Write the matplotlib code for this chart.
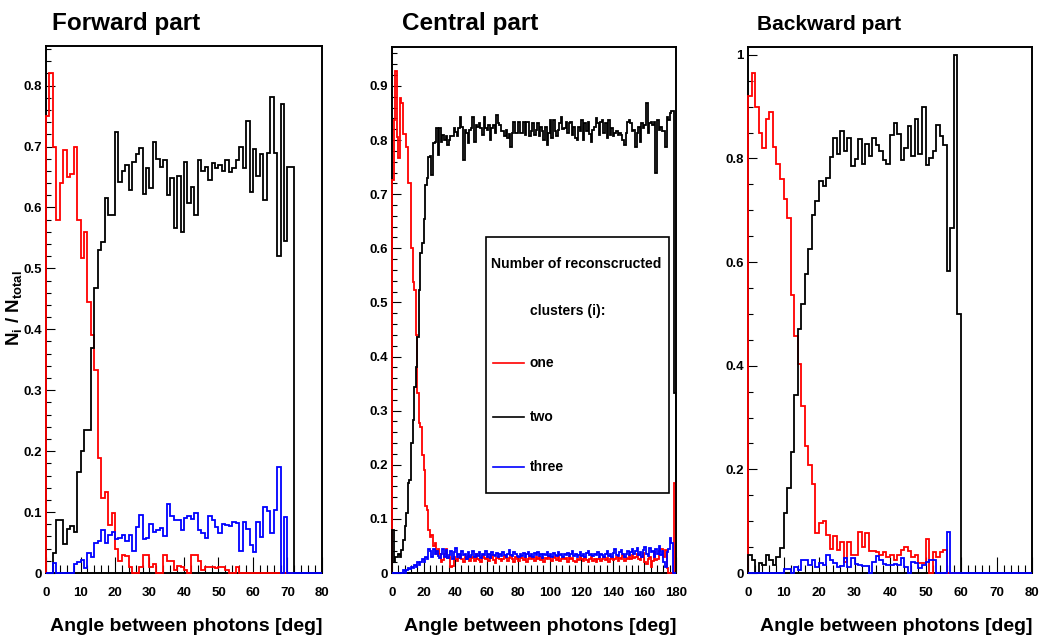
import numpy as np
import matplotlib
matplotlib.use('Agg')
import matplotlib.pyplot as plt
from matplotlib.ticker import MultipleLocator, FuncFormatter
from matplotlib.patches import Rectangle
from matplotlib.lines import Line2D

plt.rcParams['font.family'] = ['Liberation Sans', 'DejaVu Sans']
plt.rcParams['font.weight'] = 'bold'
plt.rcParams['mathtext.fontset'] = 'custom'
plt.rcParams['mathtext.rm'] = 'Liberation Sans:bold'
plt.rcParams['mathtext.it'] = 'Liberation Sans:bold'
plt.rcParams['mathtext.bf'] = 'Liberation Sans:bold'

# ---- Forward part (1 deg bins, 0..80) ----
fwd_one = [0.75, 0.82, 0.70, 0.58, 0.64, 0.695, 0.65, 0.655, 0.70, 0.58,
           0.517, 0.56, 0.445, 0.39, 0.334, 0.189, 0.123, 0.133, 0.079, 0.098,
           0.04, 0.02, 0.03, 0.028, 0.01, 0.0, 0.0, 0.01, 0.03, 0.03,
           0.01, 0.015, 0.0, 0.0, 0.03, 0.02, 0.02, 0.005, 0.012, 0.01,
           0.005, 0.0, 0.03, 0.03, 0.02, 0.005, 0.01, 0.01, 0.01, 0.008,
           0.01, 0.01, 0.005, 0.0, 0.0, 0.01]
fwd_two = [0.0, 0.0, 0.033, 0.087, 0.087, 0.048, 0.072, 0.077, 0.067, 0.165,
           0.2, 0.235, 0.235, 0.37, 0.468, 0.53, 0.543, 0.616, 0.587, 0.587,
           0.724, 0.641, 0.66, 0.67, 0.628, 0.675, 0.688, 0.697, 0.622, 0.665,
           0.632, 0.708, 0.68, 0.667, 0.678, 0.621, 0.648, 0.567, 0.652, 0.56,
           0.674, 0.607, 0.634, 0.587, 0.678, 0.66, 0.667, 0.645, 0.673, 0.665,
           0.67, 0.66, 0.678, 0.658, 0.665, 0.678, 0.70, 0.665, 0.742, 0.625,
           0.696, 0.652, 0.687, 0.613, 0.69, 0.782, 0.69, 0.52, 0.77, 0.545,
           0.667, 0.667]
fwd_three = [0.0, 0.0, 0.016, 0.0, 0.0, 0.0, 0.0, 0.0, 0.015, 0.018,
             0.022, 0.008, 0.033, 0.027, 0.05, 0.052, 0.07, 0.05, 0.062, 0.068,
             0.055, 0.057, 0.063, 0.052, 0.063, 0.036, 0.075, 0.096, 0.055, 0.057,
             0.08, 0.067, 0.07, 0.074, 0.06, 0.114, 0.093, 0.087, 0.087, 0.07,
             0.09, 0.094, 0.088, 0.098, 0.07, 0.066, 0.058, 0.093, 0.087, 0.075,
             0.066, 0.08, 0.078, 0.077, 0.084, 0.082, 0.036, 0.083, 0.072, 0.046,
             0.035, 0.084, 0.059, 0.109, 0.101, 0.065, 0.104, 0.174, 0.0, 0.092]

# ---- Central part (1 deg bins, 0..180) ----
cen_one = [0.726, 0.837, 0.927, 0.806, 0.767, 0.877, 0.868, 0.811, 0.811, 0.788,
           0.72, 0.72, 0.60, 0.537, 0.523, 0.44, 0.333, 0.277, 0.27, 0.218,
           0.19, 0.123, 0.116, 0.08, 0.067, 0.07, 0.05, 0.055, 0.035, 0.045,
           0.036, 0.021, 0.024, 0.036, 0.045, 0.027, 0.03, 0.012, 0.013, 0.03,
           0.025, 0.022, 0.028, 0.034, 0.026, 0.02, 0.03, 0.025, 0.032, 0.022,
           0.027, 0.03, 0.022, 0.035, 0.026, 0.024, 0.02, 0.031, 0.028, 0.025,
           0.03, 0.022, 0.027, 0.033, 0.024, 0.019, 0.028, 0.03, 0.026, 0.022,
           0.025, 0.031, 0.028, 0.023, 0.027, 0.034, 0.025, 0.021, 0.029, 0.026,
           0.023, 0.03, 0.027, 0.024, 0.028, 0.02, 0.026, 0.031, 0.025, 0.027,
           0.022, 0.029, 0.026, 0.03, 0.024, 0.027, 0.021, 0.028, 0.025, 0.03,
           0.026, 0.023, 0.029, 0.027, 0.024, 0.031, 0.022, 0.026, 0.028, 0.025,
           0.027, 0.021, 0.03, 0.025, 0.028, 0.023, 0.02, 0.026, 0.024, 0.029,
           0.025, 0.022, 0.027, 0.024, 0.02, 0.026, 0.029, 0.023, 0.025, 0.021,
           0.026, 0.028, 0.022, 0.025, 0.03, 0.024, 0.027, 0.021, 0.025, 0.028,
           0.024, 0.026, 0.03, 0.023, 0.027, 0.025, 0.034, 0.022, 0.028, 0.026,
           0.031, 0.025, 0.033, 0.027, 0.029, 0.035, 0.026, 0.024, 0.03, 0.037,
           0.02, 0.016, 0.025, 0.03, 0.012, 0.022, 0.038, 0.024, 0.026, 0.04,
           0.044, 0.045, 0.03, 0.042, 0.01, 0.0, 0.0, 0.0, 0.0, 0.167]
cen_two = [0.08, 0.02, 0.03, 0.03, 0.035, 0.03, 0.043, 0.061, 0.086, 0.11,
           0.166, 0.172, 0.24, 0.283, 0.344, 0.381, 0.437, 0.523, 0.591, 0.61,
           0.655, 0.717, 0.73, 0.769,
           0.77, 0.736, 0.794, 0.797, 0.822, 0.773, 0.822, 0.797, 0.81, 0.80,
           0.807, 0.791, 0.80, 0.807, 0.807, 0.822, 0.815,
           0.807, 0.822, 0.843, 0.825, 0.764, 0.819, 0.813, 0.794, 0.819, 0.822,
           0.843, 0.797, 0.828, 0.825, 0.831, 0.822, 0.81,
           0.843, 0.822, 0.819, 0.828, 0.80, 0.822, 0.828, 0.813, 0.847, 0.831,
           0.828, 0.816, 0.816, 0.807, 0.819, 0.803, 0.812,
           0.788, 0.813, 0.834, 0.813, 0.813, 0.834, 0.813, 0.813, 0.834, 0.81,
           0.834, 0.834, 0.807, 0.816, 0.831, 0.81, 0.818,
           0.831, 0.807, 0.825, 0.816, 0.80, 0.825, 0.791, 0.813, 0.837, 0.803,
           0.837, 0.816, 0.807, 0.819, 0.831, 0.843, 0.82,
           0.822, 0.834, 0.813, 0.831, 0.834, 0.81, 0.825, 0.803, 0.80, 0.825,
           0.816, 0.837, 0.80, 0.831, 0.816, 0.834, 0.812,
           0.797, 0.819, 0.825, 0.84, 0.831, 0.81, 0.834, 0.837, 0.813, 0.831,
           0.803, 0.837, 0.81, 0.822, 0.807, 0.813, 0.816,
           0.81, 0.813, 0.81, 0.80, 0.791, 0.813, 0.834, 0.837, 0.831, 0.816,
           0.819, 0.788, 0.813, 0.825, 0.797, 0.831, 0.822,
           0.828, 0.868, 0.813, 0.831, 0.834, 0.828, 0.834, 0.74, 0.837, 0.819,
           0.825, 0.816, 0.816, 0.788, 0.843, 0.837, 0.85, 0.853, 0.853, 0.333]
cen_three = [0.0, 0.0, 0.0, 0.0, 0.0, 0.0, 0.0, 0.005, 0.0, 0.005,
             0.01, 0.008, 0.012, 0.01, 0.015, 0.012, 0.02, 0.015, 0.02, 0.025,
             0.02, 0.03, 0.025, 0.045, 0.04, 0.03, 0.045, 0.035,
             0.04, 0.032, 0.028, 0.035, 0.045, 0.03, 0.042, 0.028, 0.034, 0.04, 0.025, 0.038,
             0.047, 0.03, 0.035, 0.028, 0.04, 0.033, 0.036, 0.025, 0.038, 0.03,
             0.034, 0.04, 0.029, 0.036, 0.031, 0.038, 0.027, 0.035, 0.033, 0.04,
             0.03, 0.036, 0.028, 0.039, 0.034, 0.031, 0.037, 0.029, 0.035, 0.032,
             0.038, 0.033, 0.03, 0.036, 0.042, 0.034, 0.031, 0.039, 0.035, 0.032,
             0.029, 0.036, 0.031, 0.037, 0.03, 0.035, 0.039, 0.032, 0.036, 0.03,
             0.037, 0.033, 0.038, 0.031, 0.035, 0.028, 0.036, 0.034, 0.039, 0.032,
             0.036, 0.03, 0.037, 0.034, 0.032, 0.038, 0.033, 0.036, 0.029, 0.035,
             0.033, 0.037, 0.031, 0.035, 0.04, 0.032, 0.036, 0.03, 0.034, 0.038,
             0.032, 0.035, 0.03, 0.037, 0.041, 0.033, 0.036, 0.031, 0.035, 0.034,
             0.038, 0.03, 0.036, 0.033, 0.029, 0.035, 0.04, 0.032, 0.036, 0.03,
             0.037, 0.045, 0.034, 0.031, 0.038, 0.043, 0.035, 0.03, 0.036, 0.041,
             0.033, 0.039, 0.045, 0.036, 0.04, 0.047, 0.034, 0.038, 0.029, 0.042,
             0.048, 0.035, 0.032, 0.046, 0.038, 0.041, 0.03, 0.044, 0.036, 0.049,
             0.033, 0.04, 0.02, 0.012, 0.038, 0.045, 0.065, 0.055, 0.0, 0.0]

# ---- Backward part (1 deg bins, 0..80) ----
bwd_one = [0.92, 0.965, 0.90, 0.85, 0.82, 0.877, 0.89, 0.822, 0.79, 0.761,
           0.722, 0.685, 0.536, 0.458, 0.404, 0.322, 0.245, 0.208, 0.172, 0.077,
           0.096, 0.1, 0.074, 0.047, 0.072, 0.045, 0.06, 0.022, 0.06, 0.035,
           0.035, 0.08, 0.05, 0.078, 0.043, 0.042, 0.04, 0.035, 0.04, 0.03,
           0.035, 0.025, 0.035, 0.045, 0.05, 0.043, 0.03, 0.035, 0.02, 0.02,
           0.065, 0.0, 0.04, 0.03, 0.04, 0.045]
bwd_two = [0.035, 0.025, 0.0, 0.02, 0.015, 0.035, 0.025, 0.015, 0.03, 0.048,
           0.116, 0.164, 0.233, 0.343, 0.47, 0.52, 0.577, 0.625, 0.69, 0.718,
           0.757, 0.747, 0.763, 0.803, 0.84, 0.808, 0.853, 0.815, 0.84, 0.786,
           0.798, 0.838, 0.79, 0.827, 0.805, 0.84, 0.826, 0.815, 0.796, 0.79,
           0.846, 0.868, 0.847, 0.797, 0.82, 0.863, 0.805, 0.877, 0.808, 0.90,
           0.788, 0.801, 0.814, 0.865, 0.843, 0.826, 0.582, 0.665, 1.0, 0.5]
bwd_three = [0.0, 0.0, 0.0, 0.0, 0.0, 0.0, 0.0, 0.0, 0.0, 0.0,
             0.008, 0.008, 0.0, 0.012, 0.005, 0.025, 0.025, 0.015, 0.025, 0.012,
             0.02, 0.015, 0.035, 0.025, 0.02, 0.012, 0.013, 0.028, 0.012, 0.028,
             0.018, 0.016, 0.013, 0.013, 0.0, 0.022, 0.033, 0.025, 0.018, 0.016,
             0.015, 0.017, 0.015, 0.028, 0.012, 0.0, 0.022, 0.02, 0.01, 0.015,
             0.022, 0.025, 0.025, 0.0, 0.0, 0.0, 0.08]

W, H = 1041, 639


def fx(x):
    return x / W


def fy(y):
    return 1 - y / H


fig = plt.figure(figsize=(W / 100, H / 100), dpi=100)

panels = [
    dict(box=(46, 46, 322, 573), nb=80, ymax=0.865, xmaj=10, xmin=2, ymaj=0.1, ymn=0.02,
         title='Forward part', tx=52, ts=17.5, data=(fwd_one, fwd_two, fwd_three)),
    dict(box=(392, 47, 676, 573), nb=180, ymax=0.972, xmaj=20, xmin=4, ymaj=0.1, ymn=0.02,
         title='Central part', tx=402, ts=17.5, data=(cen_one, cen_two, cen_three)),
    dict(box=(748, 47, 1032, 573), nb=80, ymax=1.015, xmaj=10, xmin=2, ymaj=0.2, ymn=0.05,
         title='Backward part', tx=757, ts=15, data=(bwd_one, bwd_two, bwd_three)),
]
colors = ['#ff0000', '#000000', '#0000ff']

for p in panels:
    l, t, r, b = p['box']
    ax = fig.add_axes([fx(l), fy(b), (r - l) / W, (b - t) / H])
    edges = np.arange(p['nb'] + 1, dtype=float)
    for vals, c in zip(p['data'], colors):
        v = np.pad(np.asarray(vals, dtype=float), (0, p['nb'] - len(vals)))
        ax.stairs(v, edges, color=c, lw=1.3, baseline=0, zorder=3, clip_on=False)
    ax.set_xlim(0, p['nb'])
    ax.set_ylim(0, p['ymax'])
    ax.xaxis.set_major_locator(MultipleLocator(p['xmaj']))
    ax.xaxis.set_minor_locator(MultipleLocator(p['xmin']))
    ax.yaxis.set_major_locator(MultipleLocator(p['ymaj']))
    ax.yaxis.set_minor_locator(MultipleLocator(p['ymn']))
    fmt = FuncFormatter(lambda v, pos: f'{v:g}')
    ax.xaxis.set_major_formatter(fmt)
    ax.yaxis.set_major_formatter(fmt)
    ax.tick_params(which='both', direction='in', top=False, right=False, width=0.8)
    ax.tick_params(axis='x', which='major', length=11.5, pad=10, labelsize=9.5)
    ax.tick_params(axis='x', which='minor', length=5.8)
    ax.tick_params(axis='y', which='major', length=6.5, pad=3, labelsize=9.5)
    ax.tick_params(axis='y', which='minor', length=3.4)
    for s in ax.spines.values():
        s.set_linewidth(1.4)
    fig.text(fx(p['tx']), fy(30), p['title'], fontsize=p['ts'], ha='left', va='baseline')
    fig.text(fx(r), fy(631), 'Angle between photons [deg]', fontsize=14,
             ha='right', va='baseline')

fig.text(fx(14), fy(308), 'N$_{i}$ / N$_{total}$', rotation=90, fontsize=13.5,
         ha='center', va='center')

# legend box in central panel
fig.add_artist(Rectangle((fx(486), fy(493)), (669 - 486) / W, (493 - 237) / H,
                         transform=fig.transFigure, fill=False, ec='black', lw=1.2))
fig.text(fx(576), fy(264), 'Number of reconscructed', fontsize=10.1, ha='center', va='center')
fig.text(fx(568), fy(311), 'clusters (i):', fontsize=10.1, ha='center', va='center')
for lab, c, yy in zip(['one', 'two', 'three'], colors, [363, 417, 467]):
    fig.add_artist(Line2D([fx(493), fx(524)], [fy(yy), fy(yy)], transform=fig.transFigure,
                          color=c, lw=1.2))
    fig.text(fx(530), fy(yy), lab, fontsize=10, ha='left', va='center')

fig.savefig('out.png', dpi=100)
